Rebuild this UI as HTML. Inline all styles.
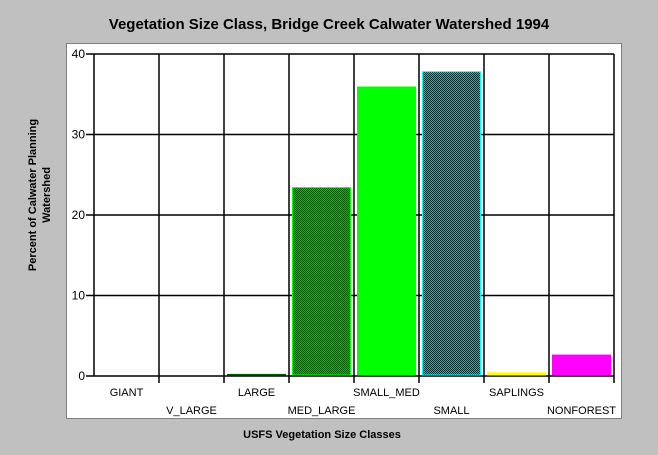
<!DOCTYPE html>
<html><head><meta charset="utf-8"><style>
body{margin:0;background:#c0c0c0;}
svg{display:block;font-family:"Liberation Sans",Arial,sans-serif;}
</style></head><body>
<svg width="658" height="455" viewBox="0 0 658 455" xmlns="http://www.w3.org/2000/svg">
<defs>
<pattern id="pGreen" width="2" height="2" patternUnits="userSpaceOnUse"><rect width="2" height="2" fill="#00c000"/><rect width="1" height="1" fill="#006000"/><rect x="1" y="1" width="1" height="1" fill="#006000"/></pattern>
<pattern id="pCyan" width="2" height="2" patternUnits="userSpaceOnUse"><rect width="2" height="2" fill="#00c0c0"/><rect width="1" height="1" fill="#003030"/><rect x="1" y="1" width="1" height="1" fill="#003030"/></pattern>
</defs>
<rect width="658" height="455" fill="#c0c0c0"/>
<text x="329" y="29" text-anchor="middle" font-size="15" font-weight="bold" fill="#000">Vegetation Size Class, Bridge Creek Calwater Watershed 1994</text>
<rect x="66.5" y="43.5" width="555" height="375" fill="#fff" stroke="#808080"/>
<g id="grid"></g>
<g id="bars"></g>
<g id="axes"></g>
<text transform="translate(36,195) rotate(-90)" text-anchor="middle" font-size="11" font-weight="bold"><tspan x="0" y="0">Percent of Calwater Planning</tspan><tspan x="0" dy="14">Watershed</tspan></text>
<text x="322" y="438" text-anchor="middle" font-size="11" font-weight="bold">USFS Vegetation Size Classes</text>
</svg>
<script>
const categories=["GIANT","V_LARGE","LARGE","MED_LARGE","SMALL_MED","SMALL","SAPLINGS","NONFOREST"];
const values=[0,0,0.2,23.4,35.9,37.8,0.4,2.6];
const yTicks=[0,10,20,30,40];
const fills=["#00c000","#00c000","#006000","url(#pGreen)","#00ff00","url(#pCyan)","#ffff00","#ff00ff"];
const strokes=["#00c000","#00c000","#006000","#00ff00","#00ff00","#00ffff","#ffff00","#ff00ff"];
const NS="http://www.w3.org/2000/svg";
const X0=94,X1=614,Y0=376,Y1=54,YMAX=40;
const bw=(X1-X0)/categories.length;
const xs=i=>X0+i*bw;
const ys=v=>Y0-(v/YMAX)*(Y0-Y1);
function mk(t,a,p){const e=document.createElementNS(NS,t);for(const k in a)e.setAttribute(k,a[k]);p.appendChild(e);return e;}
const grid=document.getElementById('grid'),bars=document.getElementById('bars'),axes=document.getElementById('axes');
yTicks.forEach(t=>{const y=ys(t);
 const l=mk('line',{x1:X0-8,x2:X1,y1:y,y2:y,stroke:'#000','stroke-width':1.5},grid);
 
 
 const tx=mk('text',{x:X0-9,y:y+4,'text-anchor':'end','font-size':12},axes);
 tx.textContent=t;
 
 
});
for(let i=0;i<=categories.length;i++){const x=xs(i);
 const l=mk('line',{x1:x,x2:x,y1:Y1,y2:Y0+(i>0?7:0),stroke:'#000','stroke-width':1.5},grid);
 
 
}
categories.forEach((c,i)=>{const v=values[i];
 if(v>0){const y=ys(v);
  const r=mk('rect',{x:xs(i)+3.5,y:y,width:bw-7,height:Y0-y-1,fill:fills[i],stroke:strokes[i],'stroke-width':1},bars);
  
  
 }
 const t=mk('text',{x:xs(i)+bw/2,y:i%2===0?396:414,'text-anchor':'middle','font-size':11},axes);
 t.textContent=c;
 
 
});
</script>
</body></html>
